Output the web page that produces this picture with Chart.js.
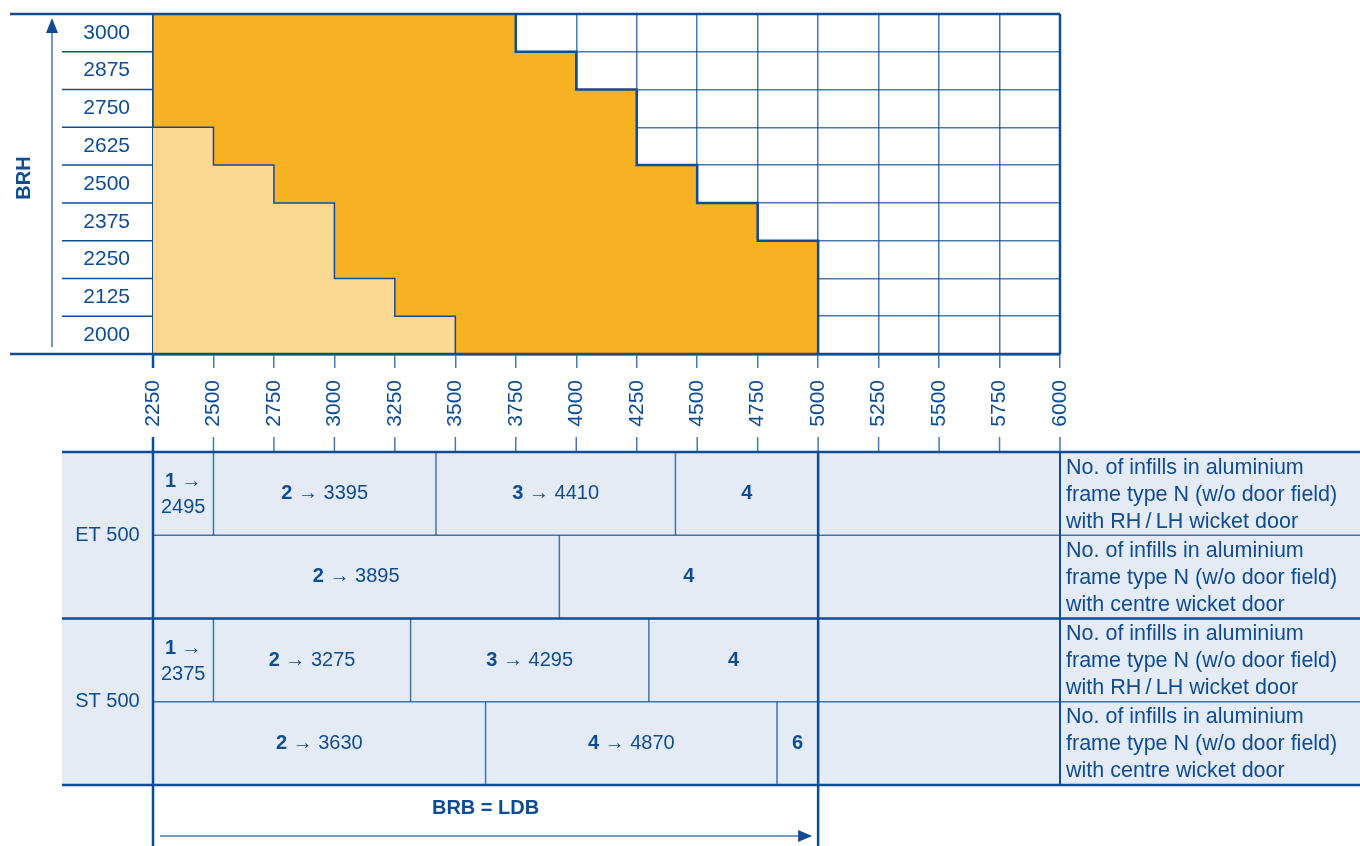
<!DOCTYPE html>
<html>
<head>
<meta charset="utf-8">
<script src="https://cdn.jsdelivr.net/npm/chart.js@4.4.1/dist/chart.umd.min.js"></script>
<style>
  body { margin: 0; background: #fff; }
  canvas { display: block; }
</style>
</head>
<body>
<canvas id="sizeChart" width="1360" height="846"></canvas>
<script>
// door height rows (top to bottom) and width axis
const rowLabels = ["3000", "2875", "2750", "2625", "2500", "2375", "2250", "2125", "2000"];
const widthMin = 2250;
const widthMax = 6000;
const widthStep = 250;

// end of light / dark area in each row (mm)
const lightEnd = [2250, 2250, 2250, 2500, 2750, 3000, 3000, 3250, 3500];
const darkEnd = [3750, 4000, 4250, 4250, 4500, 4750, 5000, 5000, 5000];

// infill table, one set of arrays per row
const etSideEnds = [2500, 3420, 4410, 5000];
const etSideCounts = ["1", "2", "3", "4"];
const etSideLimits = ["2495", "3395", "4410", ""];
const etCentreEnds = [3930, 5000];
const etCentreCounts = ["2", "4"];
const etCentreLimits = ["3895", ""];
const stSideEnds = [2500, 3315, 4300, 5000];
const stSideCounts = ["1", "2", "3", "4"];
const stSideLimits = ["2375", "3275", "4295", ""];
const stCentreEnds = [3625, 4830, 5000];
const stCentreCounts = ["2", "4", "6"];
const stCentreLimits = ["3630", "4870", ""];

const doorTypes = ["ET 500", "ST 500"];
const sideNote = ["No. of infills in aluminium", "frame type N (w/o door field)", "with RH\u2009/\u2009LH wicket door"];
const centreNote = ["No. of infills in aluminium", "frame type N (w/o door field)", "with centre wicket door"];

const navy = "#0f4c92";
const gridBlue = "rgba(15,76,146,0.75)";
const darkOrange = "#f6b223";
const lightOrange = "#fbd993";
const tableBg = "#e4ebf4";
const fontFamily = '"Liberation Sans", Arial, sans-serif';

function line(ctx, x1, y1, x2, y2, w, color) {
  ctx.save();
  ctx.strokeStyle = color || navy;
  ctx.lineWidth = w;
  ctx.beginPath();
  ctx.moveTo(x1, y1);
  ctx.lineTo(x2, y2);
  ctx.stroke();
  ctx.restore();
}

// bold count followed by normal " → limit", centred on cx
function countText(ctx, count, rest, cx, cy) {
  ctx.font = "bold 20px " + fontFamily;
  const wb = ctx.measureText(count).width;
  ctx.font = "20px " + fontFamily;
  const wr = ctx.measureText(rest).width;
  let x = cx - (wb + wr) / 2;
  ctx.textAlign = "left";
  ctx.font = "bold 20px " + fontFamily;
  ctx.fillText(count, x, cy);
  ctx.font = "20px " + fontFamily;
  ctx.fillText(rest, x + wb, cy);
}

const tablePlugin = {
  id: "doorTable",
  afterDraw(chart) {
    const ctx = chart.ctx;
    const xs = chart.scales.x;
    const ys = chart.scales.y;
    const area = chart.chartArea;
    const rowH = ys.getPixelForValue(1) - ys.getPixelForValue(0);
    const W = chart.width;
    const H = chart.height;

    // staircase outlines
    function stairs(ends, w) {
      ctx.save();
      ctx.strokeStyle = navy;
      ctx.lineWidth = w;
      ctx.beginPath();
      ends.forEach((v, i) => {
        const yc = ys.getPixelForValue(i);
        const x = xs.getPixelForValue(v);
        if (i === 0) ctx.moveTo(x, yc - rowH / 2);
        else ctx.lineTo(x, yc - rowH / 2);
        ctx.lineTo(x, yc + rowH / 2);
      });
      ctx.stroke();
      ctx.restore();
    }
    stairs(lightEnd, 1.5);
    stairs(darkEnd, 2.5);

    // frame and left extensions
    line(ctx, 10, area.top, area.right, area.top, 2.5);
    line(ctx, 10, area.bottom, area.right, area.bottom, 2.5);
    line(ctx, area.right, area.top, area.right, area.bottom, 2.5);
    for (let i = 1; i < rowLabels.length; i++) {
      const y = ys.getPixelForValue(i) - rowH / 2;
      line(ctx, 62, y, area.left, y, 1.5);
    }

    // BRH arrow and label
    line(ctx, 52, area.bottom - 7, 52, 32, 1.5, gridBlue);
    ctx.save();
    ctx.fillStyle = navy;
    ctx.beginPath();
    ctx.moveTo(52, 18);
    ctx.lineTo(46, 33);
    ctx.lineTo(58, 33);
    ctx.closePath();
    ctx.fill();
    ctx.translate(24, 178);
    ctx.rotate(-Math.PI / 2);
    ctx.font = "bold 20px " + fontFamily;
    ctx.textAlign = "center";
    ctx.textBaseline = "middle";
    ctx.fillText("BRH", 0, 0);
    ctx.restore();

    // table
    const tableTop = xs.bottom;
    const tRowH = 83.25;
    const tableBottom = tableTop + 4 * tRowH;

    for (let v = widthMin; v <= widthMax; v += widthStep) {
      const x = xs.getPixelForValue(v);
      line(ctx, x, tableTop - 15, x, tableTop, 1.5, gridBlue);
    }

    ctx.save();
    ctx.fillStyle = tableBg;
    ctx.fillRect(62, tableTop, W - 62, 4 * tRowH);
    ctx.restore();

    const rows = [
      [etSideEnds, etSideCounts, etSideLimits, sideNote],
      [etCentreEnds, etCentreCounts, etCentreLimits, centreNote],
      [stSideEnds, stSideCounts, stSideLimits, sideNote],
      [stCentreEnds, stCentreCounts, stCentreLimits, centreNote],
    ];

    ctx.save();
    ctx.fillStyle = navy;
    ctx.textBaseline = "middle";
    rows.forEach(([ends, counts, limits, note], r) => {
      const y0 = tableTop + r * tRowH;
      const cy = y0 + tRowH / 2;
      let prev = xs.getPixelForValue(widthMin);
      ends.forEach((v, j) => {
        const xe = xs.getPixelForValue(v);
        if (j < ends.length - 1) line(ctx, xe, y0, xe, y0 + tRowH, 1.5, gridBlue);
        const cx = (prev + xe) / 2;
        if (limits[j] && xe - prev < 90) {
          countText(ctx, counts[j], " \u2192", cx, cy - 12);
          ctx.font = "20px " + fontFamily;
          ctx.textAlign = "center";
          ctx.fillText(limits[j], cx, cy + 14);
        } else if (limits[j]) {
          countText(ctx, counts[j], " \u2192 " + limits[j], cx, cy);
        } else {
          countText(ctx, counts[j], "", cx, cy);
        }
        prev = xe;
      });
      ctx.font = "21.5px " + fontFamily;
      ctx.textAlign = "left";
      note.forEach((t, k) => ctx.fillText(t, area.right + 6, cy + (k - 1) * 27 + 1));
    });
    ctx.font = "20px " + fontFamily;
    ctx.textAlign = "center";
    doorTypes.forEach((t, k) => ctx.fillText(t, 107.5, tableTop + (2 * k + 1) * tRowH));
    ctx.restore();

    // table rules
    line(ctx, 62, tableTop, W, tableTop, 2.5);
    line(ctx, area.left, tableTop + tRowH, W, tableTop + tRowH, 1.5, gridBlue);
    line(ctx, 62, tableTop + 2 * tRowH, W, tableTop + 2 * tRowH, 2.5);
    line(ctx, area.left, tableTop + 3 * tRowH, W, tableTop + 3 * tRowH, 1.5, gridBlue);
    line(ctx, 62, tableBottom, W, tableBottom, 2.5);

    const x5000 = xs.getPixelForValue(5000);
    // left rule leaves a gap for the 2250 label
    line(ctx, area.left, area.bottom, area.left, area.bottom + 14, 2.5);
    line(ctx, area.left, tableTop - 15, area.left, H, 2.5);
    line(ctx, x5000, tableTop, x5000, H, 2.5);
    line(ctx, area.right, tableTop, area.right, tableBottom, 2);

    // BRB = LDB
    ctx.save();
    ctx.fillStyle = navy;
    ctx.font = "bold 20px " + fontFamily;
    ctx.textAlign = "center";
    ctx.textBaseline = "middle";
    ctx.fillText("BRB = LDB", (area.left + x5000) / 2, 808);
    line(ctx, area.left + 7, 836, x5000 - 12, 836, 1.5, gridBlue);
    ctx.beginPath();
    ctx.moveTo(x5000 - 6, 836);
    ctx.lineTo(x5000 - 20, 830);
    ctx.lineTo(x5000 - 20, 842);
    ctx.closePath();
    ctx.fill();
    ctx.restore();
  },
};

new Chart("sizeChart", {
  type: "bar",
  data: {
    labels: rowLabels,
    datasets: [
      {
        data: lightEnd.map((v) => [widthMin, v]),
        backgroundColor: lightOrange,
      },
      {
        data: darkEnd.map((v, i) => [lightEnd[i], v]),
        backgroundColor: darkOrange,
      },
    ],
  },
  options: {
    indexAxis: "y",
    responsive: false,
    animation: false,
    grouped: false,
    barPercentage: 1,
    categoryPercentage: 1,
    layout: { padding: { left: 0, top: 14, right: 300, bottom: 394 } },
    plugins: { legend: { display: false }, tooltip: { enabled: false } },
    scales: {
      x: {
        type: "linear",
        min: widthMin,
        max: widthMax,
        z: 1,
        afterFit: (scale) => { scale.height = 98; },
        ticks: {
          stepSize: widthStep,
          minRotation: 90,
          maxRotation: 90,
          padding: 12,
          color: navy,
          font: { family: fontFamily, size: 21 },
          callback: (v) => String(v),
        },
        grid: { color: gridBlue, lineWidth: 1.5, tickLength: 14 },
        border: { color: navy, width: 2.5 },
      },
      y: {
        type: "category",
        z: 1,
        afterFit: (scale) => {
          scale.width = 153;
          scale.paddingTop = 0;
          scale.paddingBottom = 0;
        },
        ticks: {
          padding: 23,
          color: navy,
          font: { family: fontFamily, size: 21 },
        },
        grid: { color: gridBlue, lineWidth: 1.5, drawTicks: false },
        border: { color: navy, width: 2.5 },
      },
    },
  },
  plugins: [tablePlugin],
});
</script>
</body>
</html>
